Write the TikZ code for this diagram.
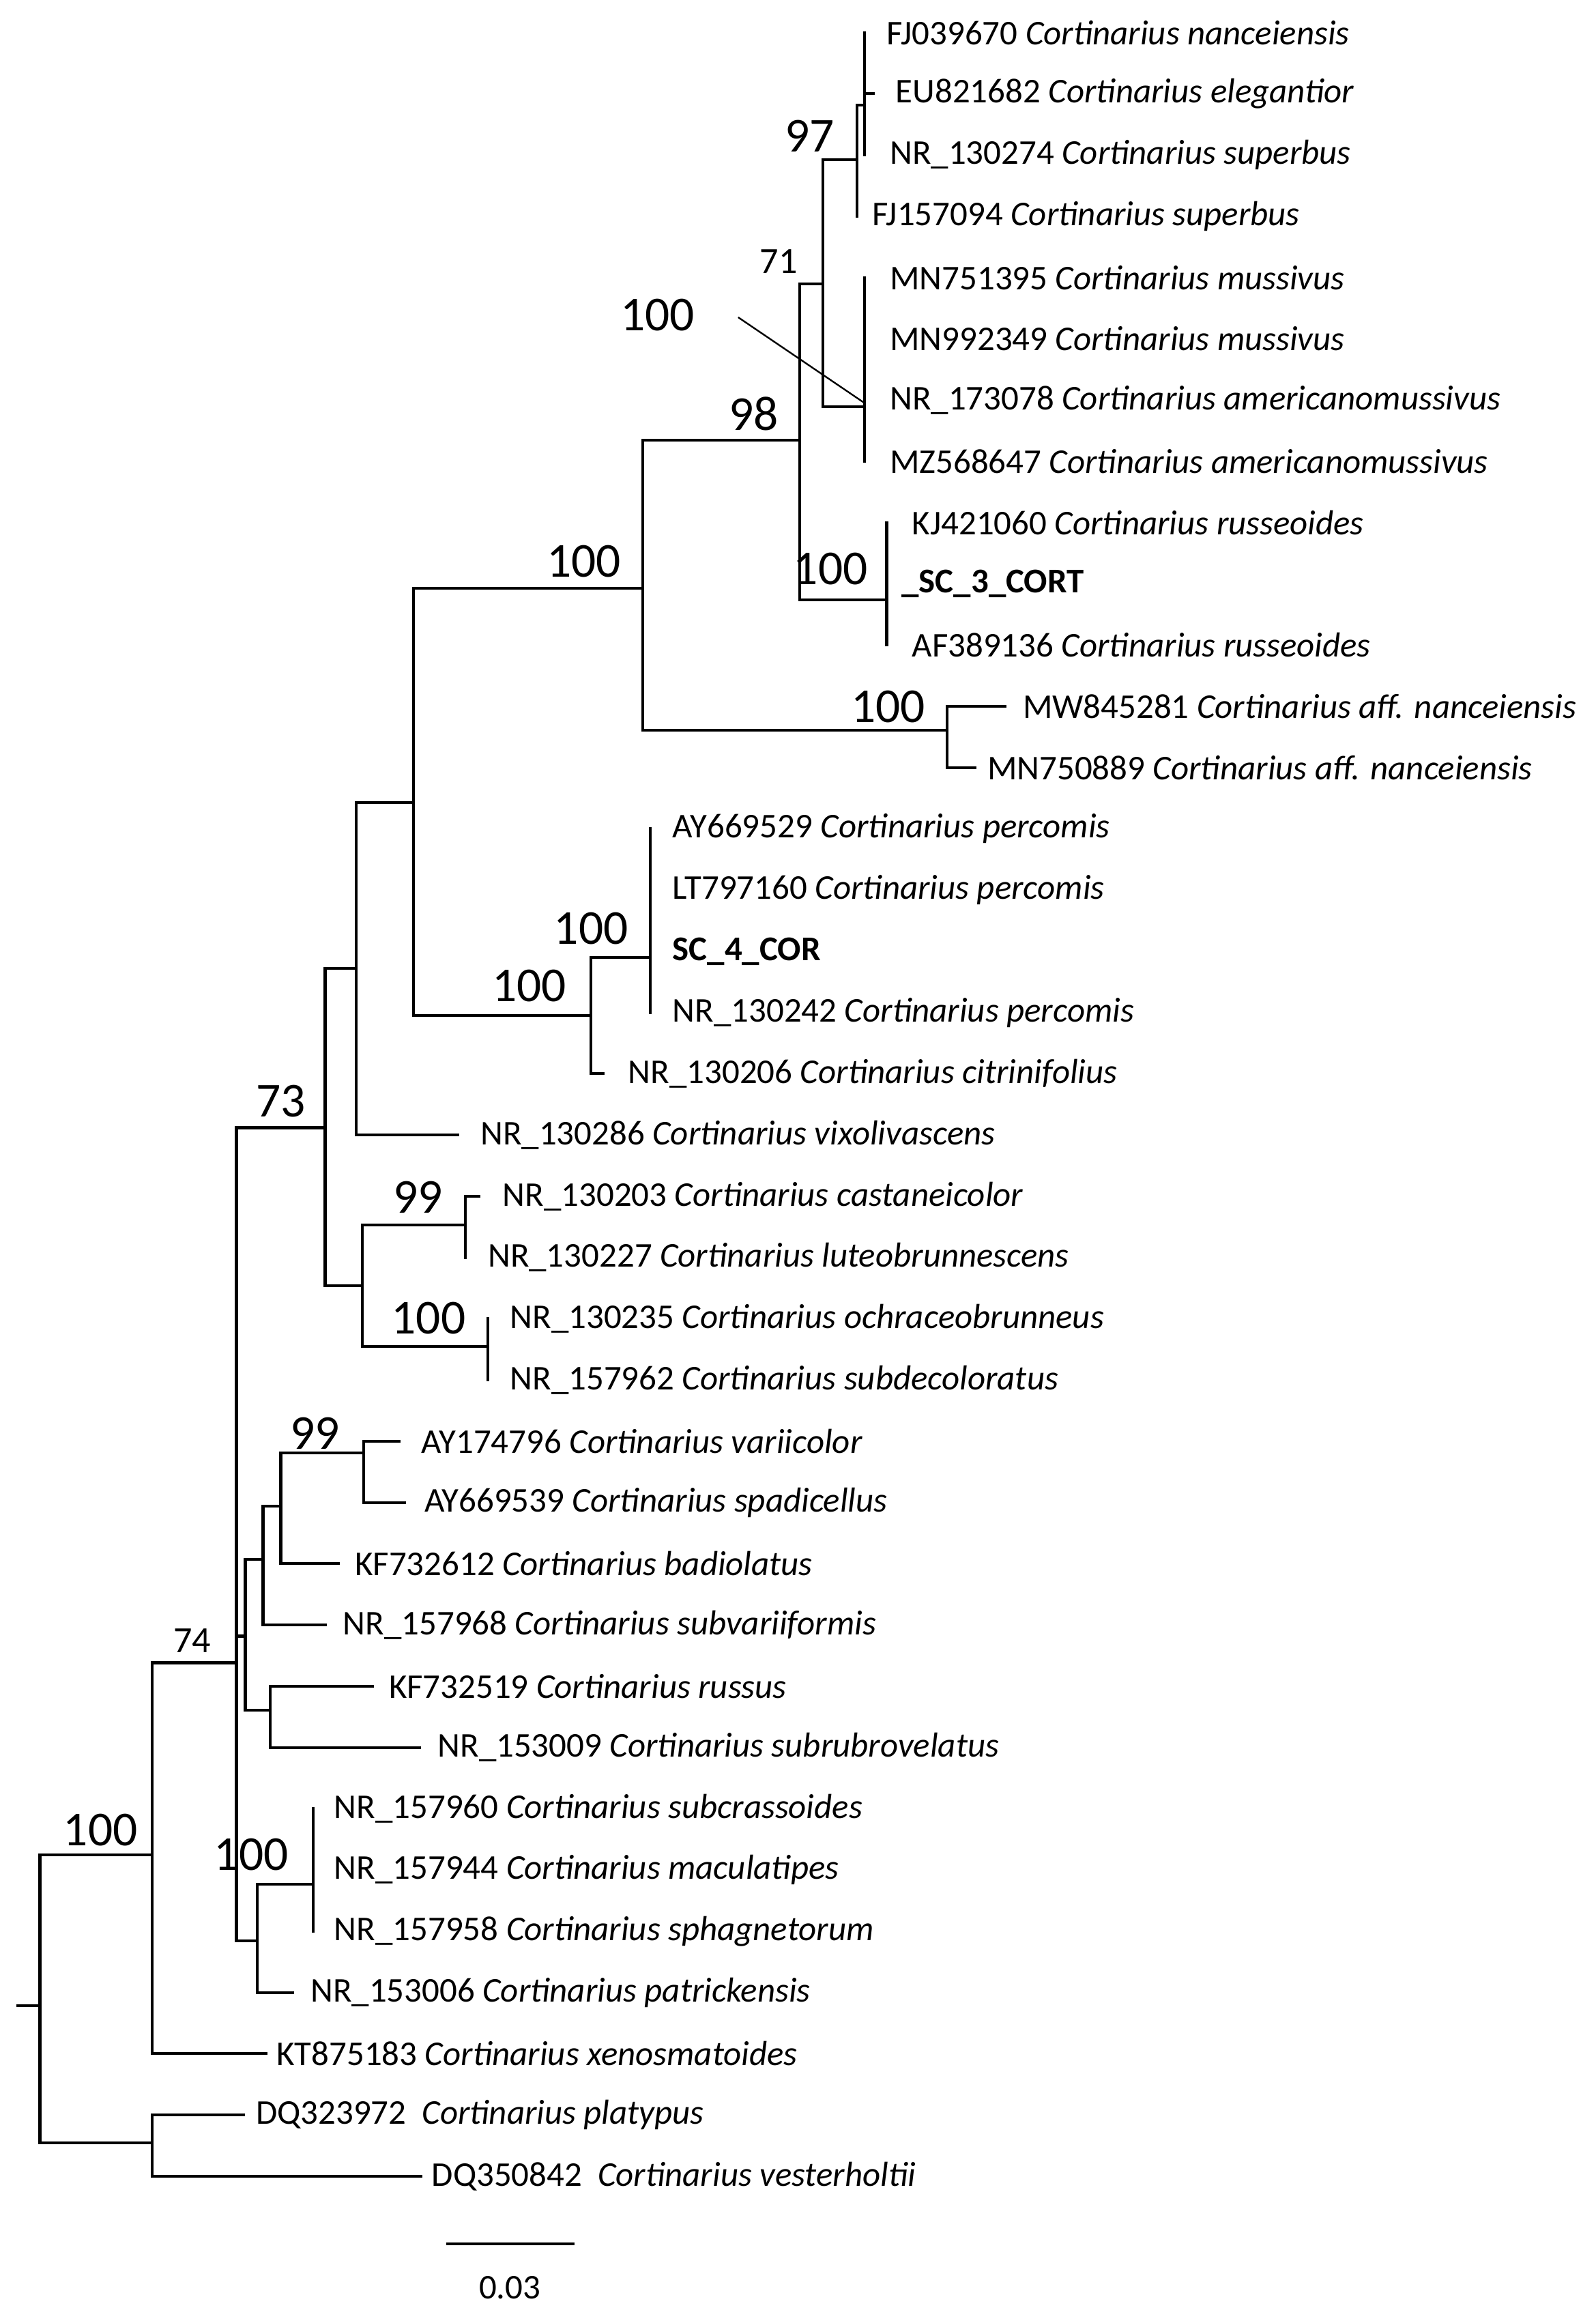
\documentclass[tikz,border=0pt]{standalone}
\usepackage{fontspec}
\setmainfont{Carlito}
\begin{document}
\begin{tikzpicture}[x=1pt,y=-1pt,line cap=rect,
  br/.style={line width=1.9pt},
  lf/.style={anchor=west,font=\fontsize{23.5}{25}\selectfont,inner sep=0pt},
  bs/.style={font=\fontsize{33}{34}\selectfont,inner sep=0pt},
  bss/.style={font=\fontsize{25}{26}\selectfont,inner sep=0pt}]
\useasboundingbox[fill=white] (0,0) rectangle (1080,1561.6);
\def\Y#1{{22+(#1-1)*41.44}}
% leaf labels
\foreach \i/\x/\t in {
1/600/FJ039670 \textit{Cortinarius nanceiensis},
2/606/EU821682 \textit{Cortinarius elegantior},
3/602/NR\_130274 \textit{Cortinarius superbus},
4/590/FJ157094 \textit{Cortinarius superbus},
5/602/MN751395 \textit{Cortinarius mussivus},
6/602/MN992349 \textit{Cortinarius mussivus},
7/602/NR\_173078 \textit{Cortinarius americanomussivus},
8/602/MZ568647 \textit{Cortinarius americanomussivus},
9/617/KJ421060 \textit{Cortinarius russeoides},
10/610/\textbf{\_SC\_3\_CORT},
11/617/AF389136 \textit{Cortinarius russeoides},
12/692/MW845281 \textit{Cortinarius aff. nanceiensis},
13/668/MN750889 \textit{Cortinarius aff. nanceiensis},
14/455/AY669529 \textit{Cortinarius percomis},
15/455/LT797160 \textit{Cortinarius percomis},
16/455/\textbf{SC\_4\_COR},
17/455/NR\_130242 \textit{Cortinarius percomis},
18/425/NR\_130206 \textit{Cortinarius citrinifolius},
19/325/NR\_130286 \textit{Cortinarius vixolivascens},
20/340/NR\_130203 \textit{Cortinarius castaneicolor},
21/330/NR\_130227 \textit{Cortinarius luteobrunnescens},
22/345/NR\_130235 \textit{Cortinarius ochraceobrunneus},
23/345/NR\_157962 \textit{Cortinarius subdecoloratus},
24/285/AY174796 \textit{Cortinarius variicolor},
25/287/AY669539 \textit{Cortinarius spadicellus},
26/240/KF732612 \textit{Cortinarius badiolatus},
27/232/NR\_157968 \textit{Cortinarius subvariiformis},
28/263/KF732519 \textit{Cortinarius russus},
29/296/NR\_153009 \textit{Cortinarius subrubrovelatus},
30/226/NR\_157960 \textit{Cortinarius subcrassoides},
31/226/NR\_157944 \textit{Cortinarius maculatipes},
32/226/NR\_157958 \textit{Cortinarius sphagnetorum},
33/210/NR\_153006 \textit{Cortinarius patrickensis},
34/187/KT875183 \textit{Cortinarius xenosmatoides},
35/173/DQ323972\ \ \textit{Cortinarius platypus},
36/292/DQ350842\ \ \textit{Cortinarius vesterholtii}}
  \node[lf] (L\i) at (\x,\Y{\i}) {\t};
% tree branches
\draw[br] (12,1357) -- (27,1357);
\draw[br] (103,1255) -| (27,1450) -- (103,1450);
\draw[br] (103,\Y{35}) -- (165,\Y{35}); \draw[br] (103,\Y{35}) -- (103,\Y{36}) -- (285,\Y{36});
\draw[br] (160,1125) -| (103,\Y{34}) -- (180,\Y{34});
% node C
\draw[br] (160,763) -- (160,1313);
\draw[br] (160,1313) -- (174,1313); \draw[br] (212,1275) -| (174,\Y{33}) -- (198,\Y{33});
\draw[br] (212,\Y{30}) -- (212,\Y{32});
\draw[br] (160,1107) -- (166,1107); \draw[br] (178,1055) -| (166,1157) -- (183,1157);
\draw[br] (183,\Y{28}) -- (183,\Y{29}); \draw[br] (183,\Y{28}) -- (252,\Y{28}); \draw[br] (183,\Y{29}) -- (284,\Y{29});
\draw[br] (190,1019) -| (178,\Y{27}) -- (220,\Y{27});
\draw[br] (246,983) -| (190,\Y{26}) -- (229,\Y{26});
\draw[br] (270,\Y{24}) -| (246,\Y{25}) -- (274,\Y{25});
% node D
\draw[br] (160,763) -- (220,763);
\draw[br] (241,655) -| (220,870) -- (245,870);
\draw[br] (245,829) -- (245,911);
\draw[br] (245,829) -- (315,829); \draw[br] (324,\Y{20}) -| (315,\Y{21});
\draw[br] (245,911) -- (330,911); \draw[br] (330,\Y{22}) -- (330,\Y{23});
\draw[br] (280,543) -| (241,\Y{19}) -- (310,\Y{19});
\draw[br] (435,398) -| (280,687) -- (400,687);
\draw[br] (440,648) -| (400,\Y{18}) -- (408,\Y{18});
\draw[br] (440,\Y{14}) -- (440,\Y{17});
% node F
\draw[br] (541,298) -| (435,494) -- (641,494);
\draw[br] (680,\Y{12}) -| (641,\Y{13}) -- (660,\Y{13});
\draw[br] (557,192) -| (541,406) -- (600,406);
\draw[br] (600,\Y{9}) -- (600,\Y{11});
\draw[br] (580,108) -| (557,275) -- (585,275);
\draw[br] (585,\Y{5}) -- (585,\Y{8});
\draw[br] (585,71) -| (580,\Y{4});
\draw[br] (585,\Y{1}) -- (585,105); \draw[br] (585,\Y{2}) -- (591,\Y{2});
\draw[line width=1.1pt] (500,215) -- (584,272);
% bootstrap labels
\node[bs] (b1) at (68,1238) {100};
\node[bss] (b2) at (130,1110) {74};
\node[bs] (b3) at (190,745) {73};
\node[bs] (b4) at (170,1255) {100};
\node[bs] (b5) at (213,970) {99};
\node[bs] (b6) at (283,810) {99};
\node[bs] (b7) at (290,892) {100};
\node[bs] (b8) at (395,380) {100};
\node[bs] (b9) at (358,667) {100};
\node[bs] (b10) at (400,628) {100};
\node[bs] (b11) at (510,280) {98};
\node[bss] (b12) at (527,177) {71};
\node[bs] (b13) at (548,92) {97};
\node[bs] (b14) at (445,213) {100};
\node[bs] (b15) at (562,385) {100};
\node[bs] (b16) at (601,478) {100};
% scale bar
\draw[br] (303,1518) -- (388,1518);
\node[lf,anchor=center] (sc) at (345,1548) {0.03};
\end{tikzpicture}
\end{document}
